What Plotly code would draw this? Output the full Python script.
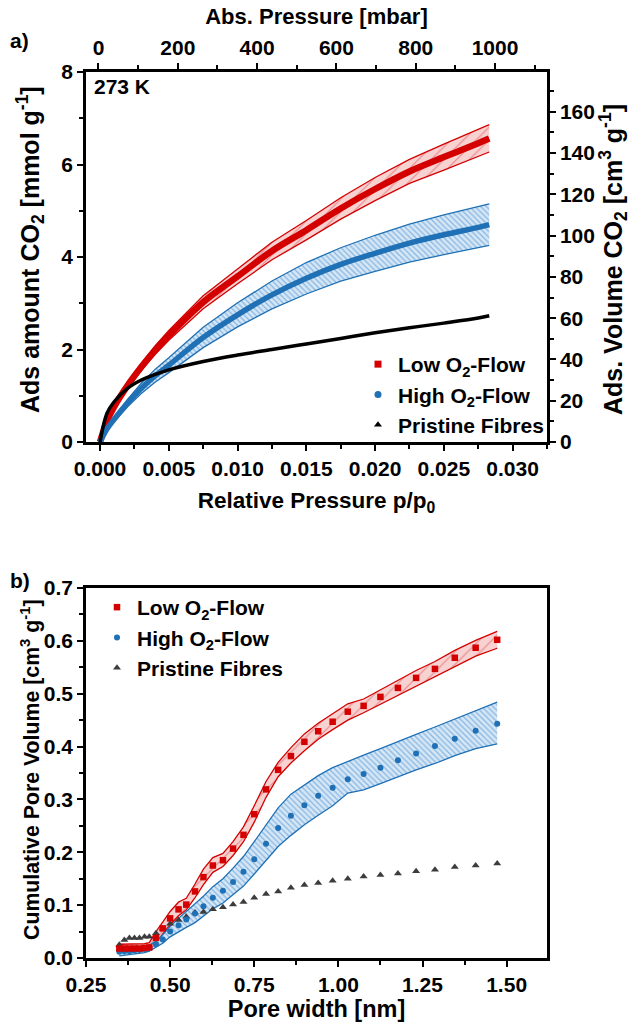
import plotly.graph_objects as go

# ---------------- Panel a: CO2 isotherms at 273 K ----------------
p_rel = [0, 0.0005, 0.001, 0.002, 0.003, 0.004, 0.005, 0.0075, 0.010, 0.0125,
         0.015, 0.0175, 0.020, 0.0225, 0.025, 0.0275, 0.0283]
low_a = [0, 0.45, 0.75, 1.22, 1.62, 1.98, 2.30, 3.02, 3.58, 4.13,
         4.58, 5.05, 5.47, 5.85, 6.16, 6.46, 6.56]
low_a_up = [0, 0.47, 0.79, 1.28, 1.70, 2.08, 2.41, 3.16, 3.74, 4.32,
            4.79, 5.28, 5.72, 6.11, 6.44, 6.75, 6.86]
low_a_lo = [0, 0.43, 0.72, 1.16, 1.55, 1.89, 2.20, 2.88, 3.42, 3.94,
            4.37, 4.82, 5.22, 5.59, 5.88, 6.17, 6.27]
high_a = [0, 0.28, 0.48, 0.84, 1.16, 1.43, 1.66, 2.26, 2.75, 3.18,
          3.54, 3.84, 4.08, 4.30, 4.48, 4.64, 4.70]
high_a_up = [0, 0.31, 0.53, 0.92, 1.27, 1.57, 1.82, 2.48, 3.01, 3.48,
             3.88, 4.20, 4.47, 4.71, 4.91, 5.08, 5.15]
high_a_lo = [0, 0.25, 0.43, 0.76, 1.05, 1.29, 1.50, 2.04, 2.49, 2.88,
             3.20, 3.48, 3.69, 3.89, 4.05, 4.20, 4.25]
pristine_a = [0, 0.62, 0.86, 1.16, 1.34, 1.46, 1.56, 1.74, 1.88, 2.00,
              2.12, 2.24, 2.36, 2.47, 2.57, 2.68, 2.73]

# ---------------- Panel b: cumulative pore volume ----------------
pore_w = [0.349, 0.364, 0.379, 0.394, 0.409, 0.424, 0.438, 0.458, 0.478, 0.500,
          0.525, 0.548, 0.574, 0.599, 0.627, 0.657, 0.687, 0.718, 0.750, 0.785,
          0.821, 0.859, 0.899, 0.940, 0.983, 1.028, 1.075, 1.125, 1.177, 1.231,
          1.287, 1.346, 1.408, 1.472]
low_b = [0.018, 0.018, 0.018, 0.018, 0.018, 0.019, 0.020, 0.038, 0.056, 0.075,
         0.092, 0.101, 0.126, 0.153, 0.175, 0.185, 0.207, 0.233, 0.272, 0.319,
         0.356, 0.382, 0.409, 0.429, 0.447, 0.466, 0.477, 0.494, 0.511, 0.530,
         0.547, 0.568, 0.587, 0.602]
low_b_up = [0.026, 0.026, 0.026, 0.026, 0.026, 0.027, 0.029, 0.050, 0.068, 0.088,
            0.106, 0.113, 0.140, 0.168, 0.190, 0.198, 0.220, 0.248, 0.288, 0.334,
            0.370, 0.398, 0.424, 0.444, 0.462, 0.481, 0.490, 0.507, 0.525, 0.544,
            0.561, 0.582, 0.601, 0.618]
low_b_lo = [0.012, 0.012, 0.012, 0.012, 0.012, 0.013, 0.014, 0.028, 0.045, 0.063,
            0.080, 0.091, 0.114, 0.139, 0.162, 0.173, 0.194, 0.220, 0.257, 0.304,
            0.343, 0.369, 0.392, 0.414, 0.432, 0.450, 0.464, 0.480, 0.497, 0.515,
            0.532, 0.552, 0.571, 0.586]
high_b = [0.012, 0.013, 0.013, 0.014, 0.015, 0.017, 0.020, 0.026, 0.035, 0.050,
          0.062, 0.073, 0.084, 0.098, 0.114, 0.127, 0.144, 0.163, 0.187, 0.216,
          0.246, 0.269, 0.289, 0.307, 0.322, 0.338, 0.348, 0.360, 0.374, 0.387,
          0.401, 0.415, 0.430, 0.443]
high_b_up = [0.015, 0.016, 0.016, 0.017, 0.018, 0.020, 0.024, 0.032, 0.044, 0.060,
             0.075, 0.088, 0.101, 0.117, 0.135, 0.150, 0.170, 0.192, 0.220, 0.252,
             0.284, 0.310, 0.328, 0.345, 0.360, 0.372, 0.384, 0.396, 0.410, 0.423,
             0.437, 0.452, 0.468, 0.484]
high_b_lo = [0.004, 0.005, 0.006, 0.007, 0.008, 0.010, 0.013, 0.020, 0.028, 0.040,
             0.050, 0.058, 0.067, 0.079, 0.093, 0.104, 0.119, 0.136, 0.159, 0.184,
             0.211, 0.232, 0.252, 0.270, 0.288, 0.312, 0.318, 0.330, 0.343, 0.356,
             0.368, 0.383, 0.396, 0.405]
pristine_b = [0.025, 0.034, 0.038, 0.038, 0.038, 0.040, 0.040, 0.047, 0.056, 0.065,
              0.072, 0.078, 0.086, 0.087, 0.092, 0.096, 0.101, 0.106, 0.114, 0.121,
              0.126, 0.133, 0.138, 0.142, 0.146, 0.150, 0.154, 0.157, 0.160, 0.164,
              0.167, 0.172, 0.175, 0.179]

series_names = ["Low O<sub>2</sub>-Flow", "High O<sub>2</sub>-Flow", "Pristine Fibres"]

RED = "#d40000"
BLUE = "#1f70b5"
BLACK = "#000000"
GREY = "#3c3c3c"
FONT = "Liberation Sans, Arial, sans-serif"


def fnt(size):
    return dict(family=FONT, size=size, color="black", weight="bold")


red_pattern = dict(shape="/", fgcolor="rgba(215,70,70,0.55)", bgcolor="rgba(242,170,170,0.55)",
                   size=9, solidity=0.12, fillmode="replace")
blue_pattern = dict(shape="\\", fgcolor="rgba(70,140,205,0.55)", bgcolor="rgba(190,218,242,0.65)",
                    size=4, solidity=0.3, fillmode="replace")

fig = go.Figure()


def add_band(x, lo, hi, color, pattern, xa, ya):
    fig.add_trace(go.Scatter(x=x, y=lo, mode="lines", line=dict(color=color, width=1.3),
                             xaxis=xa, yaxis=ya, showlegend=False, hoverinfo="skip"))
    fig.add_trace(go.Scatter(x=x, y=hi, mode="lines", line=dict(color=color, width=1.3),
                             fill="tonexty", fillpattern=pattern,
                             xaxis=xa, yaxis=ya, showlegend=False, hoverinfo="skip"))


# Panel a
add_band(p_rel, low_a_lo, low_a_up, RED, red_pattern, "x", "y")
add_band(p_rel, high_a_lo, high_a_up, BLUE, blue_pattern, "x", "y")
fig.add_trace(go.Scatter(x=p_rel, y=low_a, mode="lines", line=dict(color=RED, width=6.5, shape="spline"),
                         xaxis="x", yaxis="y", showlegend=False))
fig.add_trace(go.Scatter(x=p_rel, y=high_a, mode="lines", line=dict(color=BLUE, width=5.5, shape="spline"),
                         xaxis="x", yaxis="y", showlegend=False))
fig.add_trace(go.Scatter(x=p_rel, y=pristine_a, mode="lines", line=dict(color=BLACK, width=3.5, shape="spline"),
                         xaxis="x", yaxis="y", showlegend=False))
# companion axes of panel a
fig.add_trace(go.Scatter(x=[None], y=[None], xaxis="x2", yaxis="y", showlegend=False, hoverinfo="skip"))
fig.add_trace(go.Scatter(x=[None], y=[None], xaxis="x", yaxis="y2", showlegend=False, hoverinfo="skip"))

# legend a
for i, (name, col, sym) in enumerate(zip(series_names, [RED, BLUE, BLACK], ["square", "circle", "triangle-up"])):
    fig.add_trace(go.Scatter(x=[None], y=[None], mode="markers", name=name,
                             marker=dict(color=col, symbol=sym, size=7),
                             xaxis="x", yaxis="y", legend="legend", legendgroup="a%d" % i))

# Panel b
add_band(pore_w, low_b_lo, low_b_up, RED, red_pattern, "x3", "y3")
add_band(pore_w, high_b_lo, high_b_up, BLUE, blue_pattern, "x3", "y3")
fig.add_trace(go.Scatter(x=pore_w, y=pristine_b, mode="markers", name=series_names[2],
                         marker=dict(color=GREY, symbol="triangle-up", size=7),
                         xaxis="x3", yaxis="y3", legend="legend2", legendgroup="b2", legendrank=3))
fig.add_trace(go.Scatter(x=pore_w, y=high_b, mode="markers", name=series_names[1],
                         marker=dict(color=BLUE, symbol="circle", size=6),
                         xaxis="x3", yaxis="y3", legend="legend2", legendgroup="b1", legendrank=2))
fig.add_trace(go.Scatter(x=pore_w, y=low_b, mode="markers", name=series_names[0],
                         marker=dict(color=RED, symbol="square", size=6.5),
                         xaxis="x3", yaxis="y3", legend="legend2", legendgroup="b0", legendrank=1))

axis_common = dict(showgrid=False, zeroline=False, showline=True, linecolor="black", linewidth=2.5,
                   ticks="outside", ticklen=6, tickwidth=2, tickcolor="black", tickfont=fnt(21),
                   automargin=False)


def minor(d, t0=0):
    return dict(ticks="outside", ticklen=4, tickwidth=2, tickcolor="black", dtick=d, tick0=t0, showgrid=False)


XD = [86 / 633, 547 / 633]
YA = [1 - 442 / 1025, 1 - 72 / 1025]
YB = [1 - 958 / 1025, 1 - 588 / 1025]


def vtitle(text, xpx, ypx, size):
    return dict(text=text, x=xpx / 633, y=1 - ypx / 1025, xref="paper", yref="paper",
                xanchor="center", yanchor="middle", textangle=-90, showarrow=False, font=fnt(size))


fig.update_layout(
    width=633, height=1025,
    margin=dict(l=0, r=0, t=0, b=0, autoexpand=False),
    paper_bgcolor="white", plot_bgcolor="white",
    font=fnt(21),
    xaxis=dict(domain=XD, anchor="y", range=[-0.00102, 0.0325],
               tickvals=[0, 0.005, 0.010, 0.015, 0.020, 0.025, 0.030], tickformat=".3f",
               minor=minor(0.0025),
               title=dict(text="Relative Pressure p/p<sub>0</sub>", font=fnt(22.5), standoff=14),
               **axis_common),
    xaxis2=dict(overlaying="x", side="top", anchor="y", range=[-31.5, 1131], tick0=0, dtick=200,
                minor=minor(100),
                title=dict(text="Abs. Pressure [mbar]", font=fnt(22), standoff=6),
                **axis_common),
    yaxis=dict(domain=YA, anchor="x", range=[0, 8], tick0=0, dtick=2,
               minor=minor(1), **axis_common),
    yaxis2=dict(overlaying="y", side="right", anchor="x", range=[0, 179.3], tick0=0, dtick=20,
                minor=minor(10), **axis_common),
    xaxis3=dict(domain=XD, anchor="y3", range=[0.25, 1.62], tick0=0.25, dtick=0.25, tickformat=".2f",
                mirror=True, minor=minor(0.125, 0.25),
                title=dict(text="Pore width [nm]", font=fnt(23.5), standoff=6),
                **axis_common),
    yaxis3=dict(domain=YB, anchor="x3", range=[0, 0.7], tick0=0, dtick=0.1, tickformat=".1f",
                mirror=True, minor=minor(0.05), **axis_common),
    legend=dict(x=358 / 633, y=1 - 344 / 1025, xanchor="left", yanchor="top",
                bgcolor="rgba(0,0,0,0)", font=fnt(21), traceorder="normal",
                tracegroupgap=2, itemwidth=30),
    legend2=dict(x=97 / 633, y=1 - 587 / 1025, xanchor="left", yanchor="top",
                 bgcolor="rgba(0,0,0,0)", font=fnt(21), traceorder="normal",
                 tracegroupgap=2, itemwidth=30),
    annotations=[
        vtitle("Ads amount CO<sub>2</sub> [mmol g<sup>-1</sup>]", 30, 250, 25),
        vtitle("Ads. Volume CO<sub>2</sub> [cm<sup>3</sup> g<sup>-1</sup>]", 613, 260, 25),
        vtitle("Cumulative Pore Volume [cm<sup>3</sup> g<sup>-1</sup>]", 30, 770, 21.3),
        dict(text="273 K", x=92 / 633, y=1 - 87 / 1025, xref="paper", yref="paper",
             xanchor="left", yanchor="middle", showarrow=False, font=fnt(21)),
        dict(text="a)", x=8 / 633, y=1 - 40 / 1025, xref="paper", yref="paper",
             xanchor="left", yanchor="middle", showarrow=False, font=fnt(21)),
        dict(text="b)", x=8 / 633, y=1 - 580 / 1025, xref="paper", yref="paper",
             xanchor="left", yanchor="middle", showarrow=False, font=fnt(21)),
    ],
)

fig.write_html("out.html", config={"displayModeBar": False},
               post_script="document.body.style.margin='0px';")
